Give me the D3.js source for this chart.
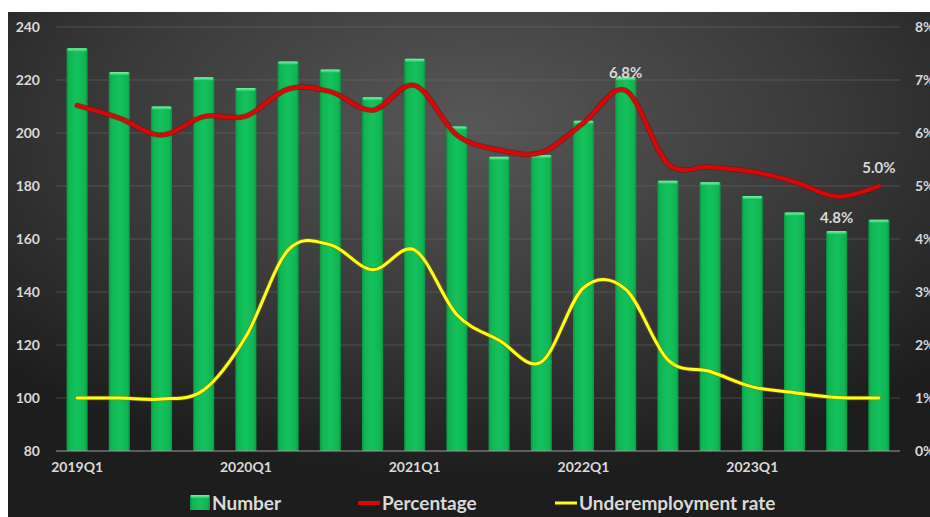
<!DOCTYPE html>
<html>
<head>
<meta charset="utf-8">
<script src="https://cdn.jsdelivr.net/npm/d3@7"></script>
<style>
  html, body { margin: 0; padding: 0; background: #ffffff; }
  svg { display: block; }
  text { font-family: Lato, "Open Sans", sans-serif; font-weight: 700; fill: #d9d9d9; }
</style>
</head>
<body>
<svg id="chart" width="930" height="517"></svg>
<script>
// Quarterly categories
const quarters = [
  "2019Q1","2019Q2","2019Q3","2019Q4",
  "2020Q1","2020Q2","2020Q3","2020Q4",
  "2021Q1","2021Q2","2021Q3","2021Q4",
  "2022Q1","2022Q2","2022Q3","2022Q4",
  "2023Q1","2023Q2","2023Q3","2023Q4"
];
// Number (left axis)
const numberValues = [232, 223, 210, 221, 217, 227, 224, 213.5, 228, 202.5, 191, 191.7, 204.6, 221, 182, 181.4, 176.2, 170, 163, 167.3];
// Percentage (right axis, %)
const percentValues = [6.52, 6.28, 5.96, 6.31, 6.32, 6.83, 6.78, 6.43, 6.9, 5.96, 5.68, 5.63, 6.19, 6.8, 5.42, 5.36, 5.27, 5.08, 4.8, 5.0];
// Underemployment rate (right axis, %)
const underValues = [1.0, 1.0, 0.98, 1.15, 2.16, 3.79, 3.89, 3.42, 3.79, 2.57, 2.09, 1.68, 3.08, 3.05, 1.72, 1.5, 1.21, 1.1, 1.01, 1.0];
// Tick labels
const leftTicks = [80, 100, 120, 140, 160, 180, 200, 220, 240];
const rightTicks = [0, 1, 2, 3, 4, 5, 6, 7, 8];
const xTickLabels = ["2019Q1", "2020Q1", "2021Q1", "2022Q1", "2023Q1"];
// Percentage points that carry a value label
const labelledQuarters = ["2022Q2", "2023Q3", "2023Q4"];

const svg = d3.select("#chart");
const defs = svg.append("defs");

// Background panel
const bg = defs.append("radialGradient").attr("id", "bgGrad")
  .attr("cx", "50%").attr("cy", "22%").attr("r", "70%");
bg.append("stop").attr("offset", "0%").attr("stop-color", "#575757");
bg.append("stop").attr("offset", "55%").attr("stop-color", "#3a3a3a");
bg.append("stop").attr("offset", "100%").attr("stop-color", "#1d1d1d");
svg.append("rect").attr("x", 8).attr("y", 12).attr("width", 922).attr("height", 505)
  .attr("fill", "url(#bgGrad)");

// Bar fill
const barGrad = defs.append("linearGradient").attr("id", "barGrad")
  .attr("x1", "0%").attr("x2", "100%").attr("y1", "0%").attr("y2", "0%");
barGrad.append("stop").attr("offset", "0%").attr("stop-color", "#0a9443");
barGrad.append("stop").attr("offset", "12%").attr("stop-color", "#10b553");
barGrad.append("stop").attr("offset", "50%").attr("stop-color", "#14c25c");
barGrad.append("stop").attr("offset", "88%").attr("stop-color", "#10b553");
barGrad.append("stop").attr("offset", "100%").attr("stop-color", "#0a9443");
const capGrad = defs.append("linearGradient").attr("id", "capGrad")
  .attr("x1", "0%").attr("x2", "0%").attr("y1", "0%").attr("y2", "100%");
capGrad.append("stop").attr("offset", "0%").attr("stop-color", "#7ff0aa");
capGrad.append("stop").attr("offset", "100%").attr("stop-color", "#22cc66");

const plot = { left: 56, right: 900, top: 27, bottom: 451 };

const x = d3.scaleBand().domain(quarters)
  .range([plot.left, plot.right]).paddingInner(0.5).paddingOuter(0.25);
const yLeft = d3.scaleLinear().domain([80, 240]).range([plot.bottom, plot.top]);
const yRight = d3.scaleLinear().domain([0, 8]).range([plot.bottom, plot.top]);
const cx = q => x(q) + x.bandwidth() / 2;

// Gridlines
svg.append("g").selectAll("line").data(leftTicks.filter(t => t > 80)).join("line")
  .attr("x1", plot.left).attr("x2", plot.right)
  .attr("y1", d => yLeft(d)).attr("y2", d => yLeft(d))
  .attr("stroke", "#6a6a6a").attr("stroke-opacity", 0.55).attr("stroke-width", 1);

// Bars
const bars = svg.append("g");
bars.selectAll("rect.bar").data(quarters).join("rect").attr("class", "bar")
  .attr("x", d => x(d)).attr("width", x.bandwidth())
  .attr("y", (d, i) => yLeft(numberValues[i]))
  .attr("height", (d, i) => yLeft(80) - yLeft(numberValues[i]))
  .attr("fill", "url(#barGrad)");
bars.selectAll("rect.cap").data(quarters).join("rect").attr("class", "cap")
  .attr("x", d => x(d) + 1).attr("width", x.bandwidth() - 2)
  .attr("y", (d, i) => yLeft(numberValues[i]))
  .attr("height", 3).attr("rx", 1)
  .attr("fill", "url(#capGrad)");

// Baseline
svg.append("line").attr("x1", plot.left).attr("x2", plot.right)
  .attr("y1", plot.bottom).attr("y2", plot.bottom)
  .attr("stroke", "#9a9a9a").attr("stroke-width", 1);

// Lines (smoothed)
const lineOf = vals => d3.line()
  .x((d, i) => cx(quarters[i]))
  .y(d => yRight(d))
  .curve(d3.curveCardinal.tension(0))(vals);

svg.append("path").attr("d", lineOf(underValues))
  .attr("fill", "none").attr("stroke", "#8a7a00").attr("stroke-width", 4.5)
  .attr("stroke-linecap", "round").attr("stroke-opacity", 0.6);
svg.append("path").attr("d", lineOf(underValues))
  .attr("fill", "none").attr("stroke", "#ffff1a").attr("stroke-width", 3)
  .attr("stroke-linecap", "round");

svg.append("path").attr("d", lineOf(percentValues))
  .attr("fill", "none").attr("stroke", "#8a0000").attr("stroke-width", 5.5)
  .attr("stroke-linecap", "round").attr("stroke-opacity", 0.6);
svg.append("path").attr("d", lineOf(percentValues))
  .attr("fill", "none").attr("stroke", "#d40a0a").attr("stroke-width", 4)
  .attr("stroke-linecap", "round");

// Value labels on percentage line
const labelOffsets = { "2022Q2": -13, "2023Q3": 26, "2023Q4": -13 };
svg.append("g").selectAll("text").data(labelledQuarters).join("text")
  .attr("x", d => cx(d))
  .attr("y", d => yRight(percentValues[quarters.indexOf(d)]) + labelOffsets[d])
  .attr("text-anchor", "middle")
  .attr("font-size", 15)
  .text(d => percentValues[quarters.indexOf(d)].toFixed(1) + "%");

// Axes
const leftAxis = svg.append("g").attr("transform", `translate(${plot.left},0)`)
  .call(d3.axisLeft(yLeft).tickValues(leftTicks).tickSize(0).tickPadding(16));
const rightAxis = svg.append("g").attr("transform", `translate(${plot.right},0)`)
  .call(d3.axisRight(yRight).tickValues(rightTicks).tickSize(0).tickPadding(15)
    .tickFormat(d => d + "%"));
const bottomAxis = svg.append("g").attr("transform", `translate(0,${plot.bottom})`)
  .call(d3.axisBottom(x).tickValues(xTickLabels).tickSize(0).tickPadding(11));
[leftAxis, rightAxis, bottomAxis].forEach(g => {
  g.select(".domain").remove();
  g.selectAll("text").attr("fill", "#d9d9d9")
    .attr("font-family", "Lato, 'Open Sans', sans-serif")
    .attr("font-weight", 700).attr("font-size", 14);
});

// Legend
const legend = svg.append("g");
legend.append("rect").attr("x", 190).attr("y", 495).attr("width", 20).attr("height", 15)
  .attr("fill", "url(#barGrad)");
legend.append("rect").attr("x", 191).attr("y", 495).attr("width", 18).attr("height", 3)
  .attr("fill", "url(#capGrad)");
legend.append("text").attr("x", 212).attr("y", 510).attr("font-size", 19).text("Number");
legend.append("line").attr("x1", 358).attr("x2", 380).attr("y1", 503).attr("y2", 503)
  .attr("stroke", "#d40a0a").attr("stroke-width", 4);
legend.append("text").attr("x", 382).attr("y", 510).attr("font-size", 19).text("Percentage");
legend.append("line").attr("x1", 555).attr("x2", 577).attr("y1", 503).attr("y2", 503)
  .attr("stroke", "#ffff1a").attr("stroke-width", 3);
legend.append("text").attr("x", 579).attr("y", 510).attr("font-size", 19).text("Underemployment rate");
</script>
</body>
</html>
